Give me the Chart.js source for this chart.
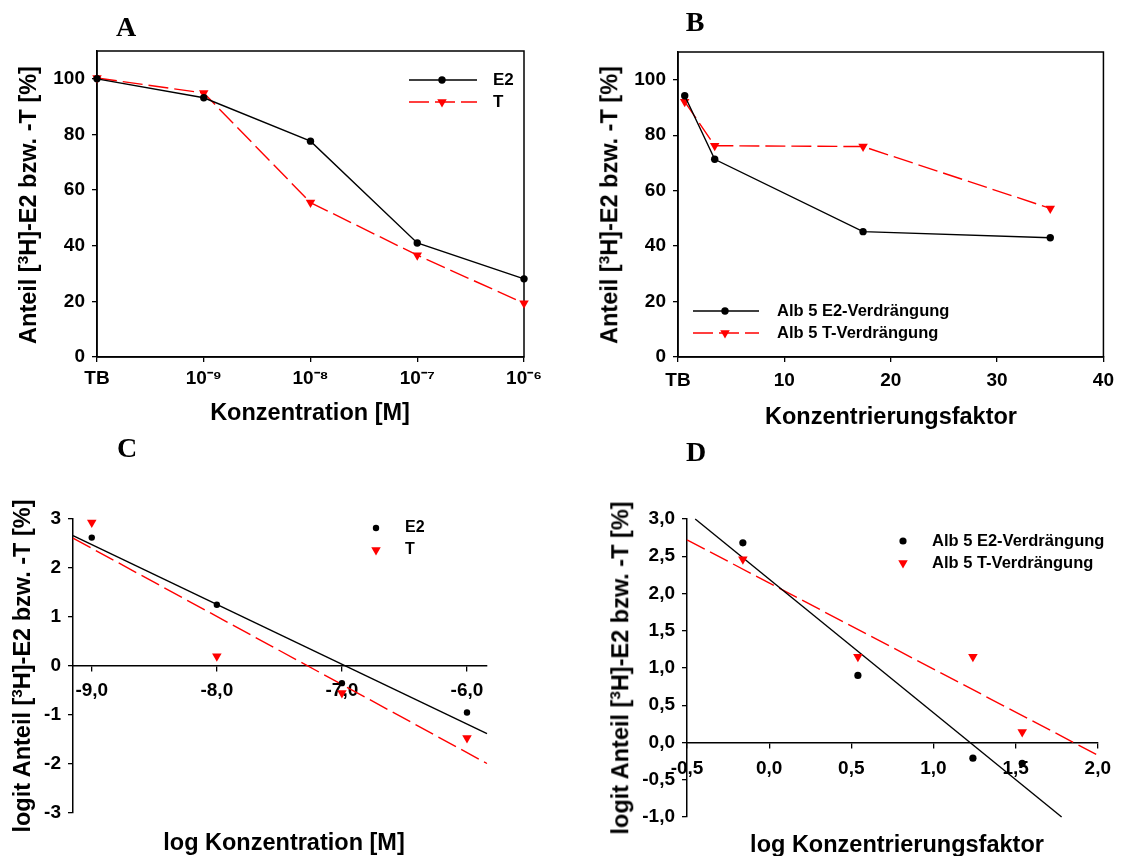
<!DOCTYPE html>
<html>
<head>
<meta charset="utf-8">
<script src="https://cdn.jsdelivr.net/npm/chart.js@4.4.1/dist/chart.umd.min.js"></script>
<style>
body { margin: 0; background: #fff; width: 1121px; height: 856px; position: relative; overflow: hidden; font-family: "Liberation Sans", Arial, sans-serif; }
canvas { position: absolute; }
.lbl { position: absolute; font-weight: bold; white-space: nowrap; color: #000; line-height: 1; }
.letter { font-family: "Liberation Serif", "Times New Roman", serif; font-size: 28px; transform: translate(-50%, -50%); }
.ytitle { font-size: 23.5px; transform: translate(-50%, -50%) rotate(-90deg); }
.xtitle { font-size: 23.5px; transform: translate(-50%, -50%); }
sup { font-size: 0.65em; vertical-align: 0.55em; line-height: 0; }
</style>
</head>
<body>
<canvas id="chartA" width="560" height="430" style="left:0;top:0"></canvas>
<canvas id="chartB" width="561" height="430" style="left:560px;top:0"></canvas>
<canvas id="chartC" width="560" height="426" style="left:0;top:430px"></canvas>
<canvas id="chartD" width="561" height="426" style="left:560px;top:430px"></canvas>

<div class="lbl letter" style="left:126px;top:27px">A</div>
<div class="lbl letter" style="left:695px;top:22px">B</div>
<div class="lbl letter" style="left:127px;top:448px">C</div>
<div class="lbl letter" style="left:696px;top:452px">D</div>

<div class="lbl ytitle" style="left:29px;top:205px">Anteil [<sup>3</sup>H]-E2 bzw. -T [%]</div>
<div class="lbl ytitle" style="left:610px;top:205px">Anteil [<sup>3</sup>H]-E2 bzw. -T [%]</div>
<div class="lbl ytitle" style="left:23px;top:666px">logit Anteil [<sup>3</sup>H]-E2 bzw. -T [%]</div>
<div class="lbl ytitle" style="left:621px;top:668px">logit Anteil [<sup>3</sup>H]-E2 bzw. -T [%]</div>

<div class="lbl xtitle" style="left:310px;top:413px">Konzentration [M]</div>
<div class="lbl xtitle" style="left:891px;top:417px">Konzentrierungsfaktor</div>
<div class="lbl xtitle" style="left:284px;top:843px">log Konzentration [M]</div>
<div class="lbl xtitle" style="left:897px;top:845px">log Konzentrierungsfaktor</div>

<script>
// A - Verdrängung gegen Konzentration
const konzLabels = ['TB', '10⁻⁹', '10⁻⁸', '10⁻⁷', '10⁻⁶'];
const konzPos = [0, 1, 2, 3, 4];
const anteilE2 = [100, 93.2, 77.6, 41, 28.1];
const anteilT = [100.3, 94.9, 55.5, 36.6, 19.3];

// B - Albumin 5, Konzentrierungsfaktor
const faktor = [0.63, 3.45, 17.4, 35];
const albE2 = [94.2, 71.3, 45.2, 43];
const albT = [92.1, 76.2, 75.9, 53.6];

// C - logit gegen log Konzentration
const logKonz = [-9, -8, -7, -6];
const logitE2 = [2.62, 1.25, -0.35, -0.95];
const logitT = [2.93, 0.2, -0.55, -1.47];
const fitXC = [-9.15, -5.84];
const fitE2C = [2.66, -1.38];
const fitTC = [2.61, -1.99];

// D - logit gegen log Konzentrierungsfaktor
const logFaktor = [-0.16, 0.54, 1.24, 1.54];
const logitAlbE2 = [2.68, 0.9, -0.21, -0.28];
const logitAlbT = [2.46, 1.15, 1.15, 0.14];
const fitXE2D = [-0.45, 1.78];
const fitE2D = [3.0, -1.0];
const fitXTD = [-0.5, 2.0];
const fitTD = [2.72, -0.17];

const pts = (xs, ys) => xs.map((x, i) => ({ x: x, y: ys[i] }));
const comma = v => v.toFixed(1).replace('.', ',');

function scale(o) {
    const s = {
        type: 'linear', min: o.min, max: o.max, position: o.position,
        border: { color: '#000', width: 1.5 },
        grid: { drawOnChartArea: false, color: '#000', lineWidth: 1.3, tickLength: 5 },
        ticks: {
            color: '#000', font: { family: 'Liberation Sans', weight: 'bold', size: o.size || 19 },
            includeBounds: false, stepSize: o.step, padding: o.pad === undefined ? 7 : o.pad,
            maxRotation: 0, autoSkip: false
        }
    };
    if (o.cb) s.ticks.callback = o.cb;
    if (o.w) s.afterFit = sc => { sc.width = o.w; };
    if (o.h) s.afterFit = sc => { sc.height = o.h; };
    return s;
}

function e2Set(label, data, r) {
    return {
        label: label, data: data, showLine: true, clip: false,
        borderColor: '#000', borderWidth: 1.4,
        pointStyle: 'circle', pointRadius: r, pointBackgroundColor: '#000', pointBorderWidth: 0
    };
}
function tSet(label, data) {
    return {
        label: label, data: data, showLine: true, clip: false,
        borderColor: '#ff0000', borderWidth: 1.4, borderDash: [20, 6],
        pointStyle: 'triangle', pointRotation: 180, pointRadius: 5.5,
        pointBackgroundColor: '#ff0000', pointBorderWidth: 0
    };
}
function fitSet(data, color, dash) {
    return {
        data: data, showLine: true, clip: false, borderColor: color, borderWidth: 1.4,
        borderDash: dash, pointRadius: 0
    };
}

// Rahmen um die Zeichenfläche (A, B)
const boxPlugin = {
    id: 'box',
    beforeDatasetsDraw(chart) {
        const a = chart.chartArea, ctx = chart.ctx;
        ctx.save();
        ctx.strokeStyle = '#000';
        ctx.lineWidth = 1.5;
        ctx.strokeRect(a.left, a.top, a.right - a.left, a.bottom - a.top);
        ctx.restore();
    }
};

// Legende an fester Stelle
const legendPlugin = {
    id: 'panelLegend',
    afterDraw(chart, args, o) {
        if (!o || o.mx === undefined) return;
        const ctx = chart.ctx;
        let row = 0;
        chart.data.datasets.forEach(ds => {
            if (!ds.label) return;
            const y = o.y + row * o.gap;
            row++;
            ctx.save();
            if (o.x0 !== undefined) {
                ctx.strokeStyle = ds.borderColor;
                ctx.lineWidth = ds.borderWidth;
                ctx.setLineDash(ds.borderDash || []);
                ctx.beginPath();
                ctx.moveTo(o.x0, y);
                ctx.lineTo(o.x1, y);
                ctx.stroke();
                ctx.setLineDash([]);
            }
            ctx.fillStyle = ds.pointBackgroundColor;
            ctx.strokeStyle = ds.pointBackgroundColor;
            Chart.helpers.drawPoint(ctx, {
                pointStyle: ds.pointStyle, rotation: ds.pointRotation || 0,
                radius: ds.pointRadius, borderWidth: 0
            }, o.mx, y);
            ctx.fillStyle = '#000';
            ctx.font = 'bold ' + o.size + 'px "Liberation Sans"';
            ctx.textBaseline = 'middle';
            ctx.fillText(ds.label, o.tx, y);
            ctx.restore();
        });
    }
};

const base = {
    responsive: false, animation: false,
    plugins: { legend: { display: false }, tooltip: { enabled: false } }
};

// A
new Chart(document.getElementById('chartA'), {
    type: 'scatter',
    data: { datasets: [e2Set('E2', pts(konzPos, anteilE2), 3.7), tSet('T', pts(konzPos, anteilT))] },
    options: Object.assign({}, base, {
        layout: { padding: { left: 37, right: 36, top: 51, bottom: 33 } },
        scales: {
            x: scale({ min: 0, max: 4, step: 1, position: 'bottom', h: 40, pad: 5, cb: v => konzLabels[v] }),
            y: scale({ min: 0, max: 110, step: 20, position: 'left', w: 60 })
        },
        plugins: Object.assign({}, base.plugins, {
            panelLegend: { x0: 409, x1: 477, mx: 442, tx: 493, y: 80, gap: 22, size: 17 }
        })
    }),
    plugins: [boxPlugin, legendPlugin]
});

// B
new Chart(document.getElementById('chartB'), {
    type: 'scatter',
    data: { datasets: [e2Set('Alb 5 E2-Verdrängung', pts(faktor, albE2), 3.7), tSet('Alb 5 T-Verdrängung', pts(faktor, albT))] },
    options: Object.assign({}, base, {
        layout: { padding: { left: 58, right: 17, top: 52, bottom: 33 } },
        scales: {
            x: scale({ min: 0, max: 40, step: 10, position: 'bottom', h: 40, pad: 7, cb: v => v === 0 ? 'TB' : v }),
            y: scale({ min: 0, max: 110, step: 20, position: 'left', w: 60 })
        },
        plugins: Object.assign({}, base.plugins, {
            panelLegend: { x0: 133, x1: 199, mx: 165, tx: 217, y: 311, gap: 22, size: 16.5 }
        })
    }),
    plugins: [boxPlugin, legendPlugin]
});

// C
new Chart(document.getElementById('chartC'), {
    type: 'scatter',
    data: {
        datasets: [
            Object.assign(e2Set('E2', pts(logKonz, logitE2), 3.2), { showLine: false }),
            Object.assign(tSet('T', pts(logKonz, logitT)), { showLine: false }),
            fitSet(pts(fitXC, fitE2C), '#000', []),
            fitSet(pts(fitXC, fitTC), '#ff0000', [20, 6])
        ]
    },
    options: Object.assign({}, base, {
        layout: { padding: { left: 23, right: 73, top: 89, bottom: 43 } },
        scales: {
            x: scale({ min: -9.15, max: -5.84, step: 1, position: { y: 0 }, pad: 8, cb: comma }),
            y: scale({ min: -3, max: 3, step: 1, position: 'left', w: 50 })
        },
        plugins: Object.assign({}, base.plugins, {
            panelLegend: { mx: 376, tx: 405, y: 98, gap: 22, size: 16 }
        })
    }),
    plugins: [legendPlugin]
});

// D
new Chart(document.getElementById('chartD'), {
    type: 'scatter',
    data: {
        datasets: [
            Object.assign(e2Set('Alb 5 E2-Verdrängung', pts(logFaktor, logitAlbE2), 3.6), { showLine: false }),
            Object.assign(tSet('Alb 5 T-Verdrängung', pts(logFaktor, logitAlbT)), { showLine: false }),
            fitSet(pts(fitXE2D, fitE2D), '#000', []),
            fitSet(pts(fitXTD, fitTD), '#ff0000', [20, 6])
        ]
    },
    options: Object.assign({}, base, {
        layout: { padding: { left: 67, right: 13, top: 89, bottom: 39 } },
        scales: {
            x: scale({ min: -0.5, max: 2, step: 0.5, position: { y: 0 }, pad: 10, cb: comma }),
            y: scale({ min: -1, max: 3, step: 0.5, position: 'left', w: 60, cb: comma })
        },
        plugins: Object.assign({}, base.plugins, {
            panelLegend: { mx: 343, tx: 372, y: 111, gap: 22, size: 16.5 }
        })
    }),
    plugins: [legendPlugin]
});
</script>
</body>
</html>
